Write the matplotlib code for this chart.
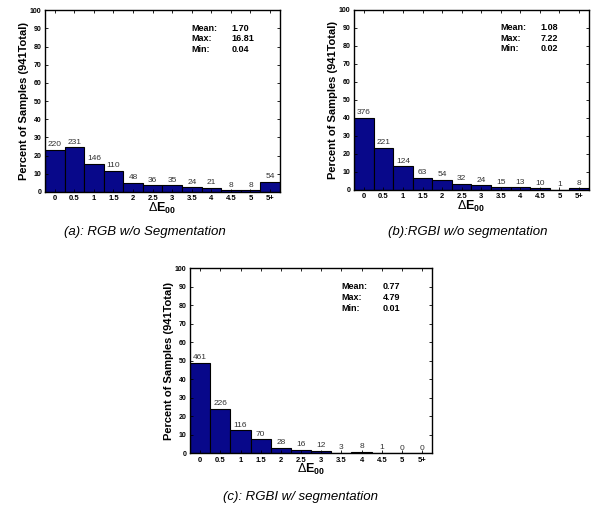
import matplotlib
matplotlib.use('Agg')
import matplotlib.pyplot as plt

plt.rcParams['font.family'] = ['Liberation Sans', 'DejaVu Sans']
plt.rcParams['mathtext.fontset'] = 'custom'
plt.rcParams['mathtext.rm'] = 'Liberation Sans'
plt.rcParams['mathtext.bf'] = 'Liberation Sans:bold'

total = 941
bins = ['0', '0.5', '1', '1.5', '2', '2.5', '3', '3.5', '4', '4.5', '5', '5+']

counts_a = [220, 231, 146, 110, 48, 36, 35, 24, 21, 8, 8, 54]
counts_b = [376, 221, 124, 63, 54, 32, 24, 15, 13, 10, 1, 8]
counts_c = [461, 226, 116, 70, 28, 16, 12, 3, 8, 1, 0, 0]

stats_a = ['1.70', '16.81', '0.04']
stats_b = ['1.08', '7.22', '0.02']
stats_c = ['0.77', '4.79', '0.01']

captions = ['(a): RGB w/o Segmentation', '(b):RGBI w/o segmentation', '(c): RGBI w/ segmentation']

bar_color = '#08088a'


def panel(ax, counts, stats):
    pct = [c / total * 100 for c in counts]
    x = list(range(len(bins)))
    ax.bar(x, pct, width=1.0, color=bar_color, edgecolor='black', linewidth=0.8)
    for xi, p, c in zip(x, pct, counts):
        ax.text(xi, p + 0.8, str(c), ha='center', va='bottom', fontsize=6, color='#333333')
    ax.set_xlim(-0.5, len(bins) - 0.5)
    ax.set_ylim(0, 100)
    ax.set_xticks(x)
    ax.set_xticklabels(bins, fontsize=5.5, fontweight='bold')
    ax.set_yticks(range(0, 101, 10))
    ax.tick_params(axis='y', labelsize=5)
    for lab in ax.get_yticklabels():
        lab.set_fontweight('bold')
    ax.tick_params(direction='in', top=True, right=True, length=2, width=0.6, pad=2.5)
    ax.set_ylabel('Percent of Samples (941Total)', fontsize=8, fontweight='bold', labelpad=1)
    ax.set_xlabel(r'$\Delta\mathbf{E}_{\mathbf{00}}$', fontsize=9, labelpad=-1)
    for s in ax.spines.values():
        s.set_linewidth(1.0)
    for i, name in enumerate(['Mean:', 'Max:', 'Min:']):
        yy = 0.90 - i * 0.058
        ax.text(0.625, yy, name, transform=ax.transAxes, fontsize=6.5, fontweight='bold', va='center')
        ax.text(0.795, yy, stats[i], transform=ax.transAxes, fontsize=6.5, fontweight='bold', va='center')


fig = plt.figure(figsize=(5.96, 5.12), dpi=100)
ax_a = fig.add_axes([0.0755, 0.625, 0.394, 0.355])
ax_b = fig.add_axes([0.594, 0.629, 0.394, 0.352])
ax_c = fig.add_axes([0.319, 0.115, 0.406, 0.361])

panel(ax_a, counts_a, stats_a)
panel(ax_b, counts_b, stats_b)
panel(ax_c, counts_c, stats_c)

fig.text(145 / 596, 1 - 232 / 512, captions[0], ha='center', va='center', fontsize=9.5, style='italic')
fig.text(468 / 596, 1 - 232 / 512, captions[1], ha='center', va='center', fontsize=9.5, style='italic')
fig.text(300 / 596, 1 - 497 / 512, captions[2], ha='center', va='center', fontsize=9.5, style='italic')

fig.savefig('out.png', dpi=100)
